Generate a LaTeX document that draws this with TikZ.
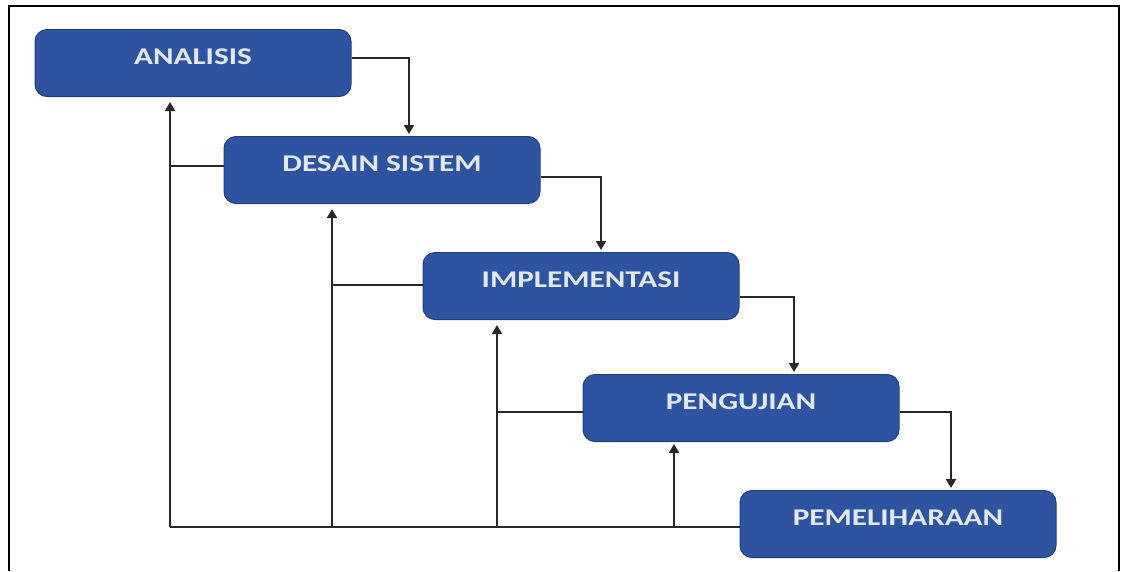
\documentclass[tikz,border=0pt]{standalone}
\usepackage{fontspec}
\setmainfont{Carlito}[FakeStretch=1.3]
\usetikzlibrary{arrows.meta}
\definecolor{boxblue}{RGB}{46,84,161}
\definecolor{boxedge}{RGB}{32,62,122}
\definecolor{boxtext}{RGB}{226,233,246}
\definecolor{linegray}{RGB}{40,40,40}
\tikzset{
  phase/.style={draw=boxedge, line width=1pt, fill=boxblue, rounded corners=12pt,
    minimum width=316pt, minimum height=67pt, inner sep=0pt, text=boxtext,
    font=\fontsize{24}{24}\selectfont\bfseries, text height=15pt, text depth=12pt},
  link/.style={draw=linegray, line width=2pt},
  flow/.style={link, -{Triangle[width=10pt,length=9pt]}},
}
\begin{document}
\begin{tikzpicture}[x=1pt,y=-1pt]
\useasboundingbox (0,0) rectangle (1128,571);

% Drawing frame (open at the bottom)
\draw [line width=2pt] (8.5,571) -- (8.5,6) -- (1119,6) -- (1119,571);

% Marking phases
\node [phase] (analisis) at (193,63) {ANALISIS};
\node [phase] (desain) at (382,170) {DESAIN SISTEM};
\node [phase] (implementasi) at (581,286) {IMPLEMENTASI};
\node [phase] (pengujian) at (741,408) {PENGUJIAN};
\node [phase] (pemeliharaan) at (898,524) {PEMELIHARAAN};

% Drawing steps down the waterfall
\draw [flow, shorten >=2pt] ([yshift=5pt]analisis.east) -| ([xshift=27pt]desain.north);
\draw [flow, shorten >=2pt] ([yshift=-7pt]desain.east) -| ([xshift=20pt]implementasi.north);
\draw [flow, shorten >=2pt] ([yshift=-11pt]implementasi.east) -| ([xshift=53pt]pengujian.north);
\draw [flow, shorten >=2pt] ([yshift=-4pt]pengujian.east) -| ([xshift=53pt]pemeliharaan.north);

% Marking feet of the return lines
\coordinate (bus1) at (170,527);
\coordinate (bus2) at (332,527);
\coordinate (bus3) at (497,527);
\coordinate (bus4) at (674,527);

% Drawing return line along the bottom
\draw [link] ([yshift=-3pt]pemeliharaan.west) -- (bus1);

% Drawing returns to each phase
\draw [flow, shorten >=5pt] (bus1) -- (bus1 |- analisis.south);
\draw [link] ([yshift=4pt]desain.west) -| (bus1);
\draw [flow, shorten >=5pt] (bus2) -- (bus2 |- desain.south);
\draw [link] ([yshift=1pt]implementasi.west) -| (bus2);
\draw [flow, shorten >=5pt] (bus3) -- (bus3 |- implementasi.south);
\draw [link] ([yshift=-4pt]pengujian.west) -| (bus3);
\draw [flow, shorten >=2pt] (bus4) -- (bus4 |- pengujian.south);
\end{tikzpicture}
\end{document}
